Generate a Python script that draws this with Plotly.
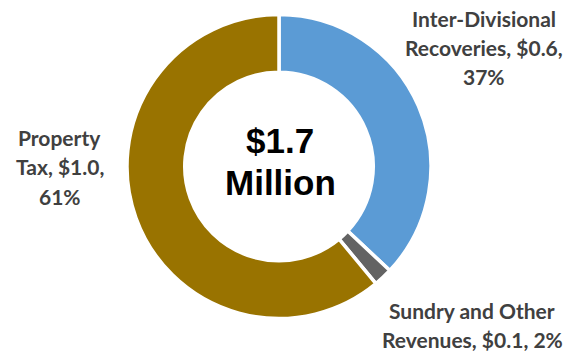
import plotly.graph_objects as go

# Revenue mix, shown as a donut with the total in the middle
categories = ["Inter-Divisional Recoveries", "Sundry and Other Revenues", "Property Tax"]
amounts_musd = [0.6, 0.1, 1.0]
shares_pct = [37, 2, 61]
colors = ["#5B9BD5", "#636363", "#997300"]
total_label = ["$1.7", "Million"]

# Line breaks used when printing each category label
label_breaks = [
    "Inter-Divisional<br>Recoveries, ${a:.1f},<br>{p}%",
    "Sundry and Other<br>Revenues, ${a:.1f}, {p}%",
    "Property<br>Tax, ${a:.1f},<br>{p}%",
]

W, H = 579, 353
cx, cy, R = 279, 166.5, 152

fig = go.Figure(
    go.Pie(
        labels=categories,
        values=shares_pct,
        hole=0.62,
        sort=False,
        direction="clockwise",
        rotation=0,
        marker=dict(colors=colors, line=dict(color="white", width=3.5)),
        textinfo="none",
        showlegend=False,
        domain=dict(x=[(cx - R) / W, (cx + R) / W],
                    y=[(H - cy - R) / H, (H - cy + R) / H]),
    )
)

def px_to_paper(x, y):
    return x / W, (H - y) / H

# label anchor: centre x and first-line centre y, in pixels
label_pos = [(484, 18), (472, 310), (60, 137)]
line_gap = 29.5
lbl_font = dict(family="Lato, Open Sans, sans-serif", size=21, color="#404040")

annotations = []
for tmpl, a, p, (lx, ly) in zip(label_breaks, amounts_musd, shares_pct, label_pos):
    lines = tmpl.format(a=a, p=p).split("<br>")
    for i, line in enumerate(lines):
        x, y = px_to_paper(lx, ly + i * line_gap)
        annotations.append(dict(x=x, y=y, xref="paper", yref="paper", text="<b>%s</b>" % line,
                                showarrow=False, xanchor="center", yanchor="middle", font=lbl_font))

centre_font = dict(family="Liberation Sans, Arial, sans-serif", size=35, color="#000000")
for i, t in enumerate(total_label):
    x, y = px_to_paper(cx + 1, 140 + i * 43)
    annotations.append(dict(x=x, y=y, xref="paper", yref="paper", text="<b>%s</b>" % t,
                            showarrow=False, xanchor="center", yanchor="middle", font=centre_font))

fig.update_layout(
    width=W, height=H,
    margin=dict(l=0, r=0, t=0, b=0),
    paper_bgcolor="white", plot_bgcolor="white",
    annotations=annotations,
)

fig.write_html("out.html")
